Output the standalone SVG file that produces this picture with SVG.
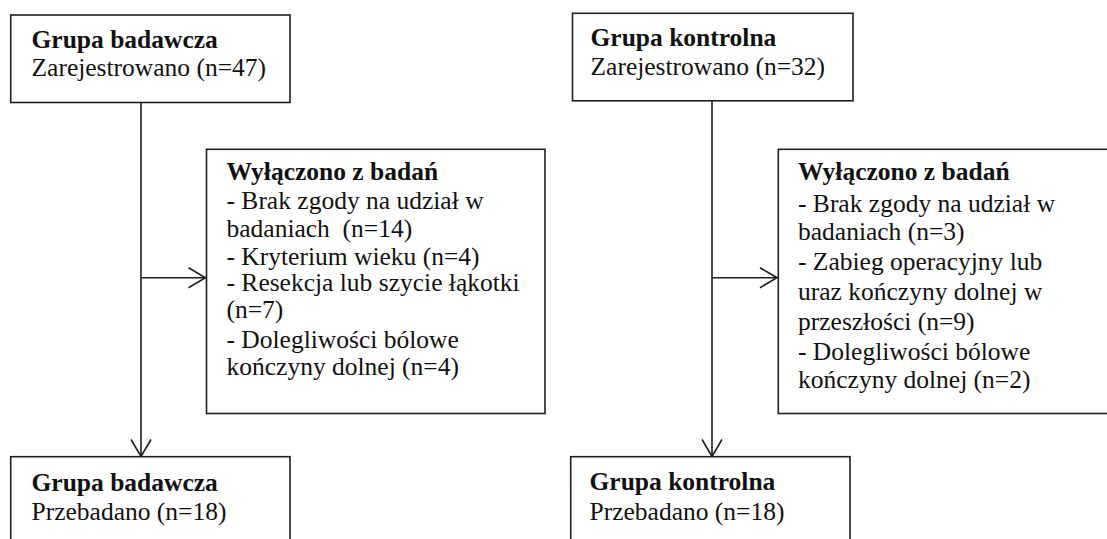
<svg xmlns="http://www.w3.org/2000/svg" width="1107" height="539" viewBox="0 0 1107 539">
<style>
.box{fill:#fff;stroke:#1e1e1e;stroke-width:1.6}
.t{font-family:'Liberation Serif','Times New Roman','DejaVu Serif','Noto Serif',serif;font-size:25.5px;fill:#111;white-space:pre}
.b{font-weight:bold}
.c{fill:none;stroke:#1e1e1e;stroke-width:1.6}
</style>
<defs>
<marker id="arr" viewBox="0 0 20 24" refX="19" refY="12" markerWidth="20" markerHeight="24" markerUnits="userSpaceOnUse" orient="auto">
<path d="M2,2 L19,12 L2,22" fill="none" stroke="#1e1e1e" stroke-width="1.6"/>
</marker>
</defs>
<rect width="1107" height="539" fill="#fff"/>
<g id="connectors">
<line class="c" x1="141" y1="102" x2="141" y2="456.5" marker-end="url(#arr)"/>
<line class="c" x1="141" y1="277.7" x2="205.5" y2="277.7" marker-end="url(#arr)"/>
<line class="c" x1="712" y1="101" x2="712" y2="456.5" marker-end="url(#arr)"/>
<line class="c" x1="712" y1="277.7" x2="777" y2="277.7" marker-end="url(#arr)"/>
</g>
<g id="node-badawcza-zarejestrowano">
<rect class="box" x="10.7" y="15" width="279.3" height="87.5"/>
<text class="t b" x="31.5" y="47.5">Grupa badawcza</text>
<text class="t" x="31.5" y="76">Zarejestrowano (n=47)</text>
</g>
<g id="node-badawcza-wylaczono">
<rect class="box" x="206.5" y="149.3" width="338.5" height="264.2"/>
<text class="t b" x="226.5" y="180">Wyłączono z badań</text>
<text class="t" x="226.5" y="208.5">- Brak zgody na udział w</text>
<text class="t" x="226.5" y="237">badaniach  (n=14)</text>
<text class="t" x="226.5" y="264.5">- Kryterium wieku (n=4)</text>
<text class="t" x="226.5" y="291">- Resekcja lub szycie łąkotki</text>
<text class="t" x="226.5" y="318">(n=7)</text>
<text class="t" x="226.5" y="348">- Dolegliwości bólowe</text>
<text class="t" x="226.5" y="375">kończyny dolnej (n=4)</text>
</g>
<g id="node-badawcza-przebadano">
<rect class="box" x="10.7" y="456.7" width="279.3" height="100"/>
<text class="t b" x="31.5" y="490.5">Grupa badawcza</text>
<text class="t" x="31.5" y="520">Przebadano (n=18)</text>
</g>
<g id="node-kontrolna-zarejestrowano">
<rect class="box" x="572.5" y="13.3" width="280.5" height="87.5"/>
<text class="t b" x="590.5" y="45.5">Grupa kontrolna</text>
<text class="t" x="590.5" y="75">Zarejestrowano (n=32)</text>
</g>
<g id="node-kontrolna-wylaczono">
<rect class="box" x="778.3" y="149.3" width="340" height="264.2"/>
<text class="t b" x="798" y="180">Wyłączono z badań</text>
<text class="t" x="798" y="212">- Brak zgody na udział w</text>
<text class="t" x="798" y="240">badaniach (n=3)</text>
<text class="t" x="798" y="270">- Zabieg operacyjny lub</text>
<text class="t" x="798" y="300">uraz kończyny dolnej w</text>
<text class="t" x="798" y="330">przeszłości (n=9)</text>
<text class="t" x="798" y="360">- Dolegliwości bólowe</text>
<text class="t" x="798" y="388">kończyny dolnej (n=2)</text>
</g>
<g id="node-kontrolna-przebadano">
<rect class="box" x="570.7" y="456.7" width="279.3" height="100"/>
<text class="t b" x="589.5" y="490">Grupa kontrolna</text>
<text class="t" x="589.5" y="519.5">Przebadano (n=18)</text>
</g>
</svg>
